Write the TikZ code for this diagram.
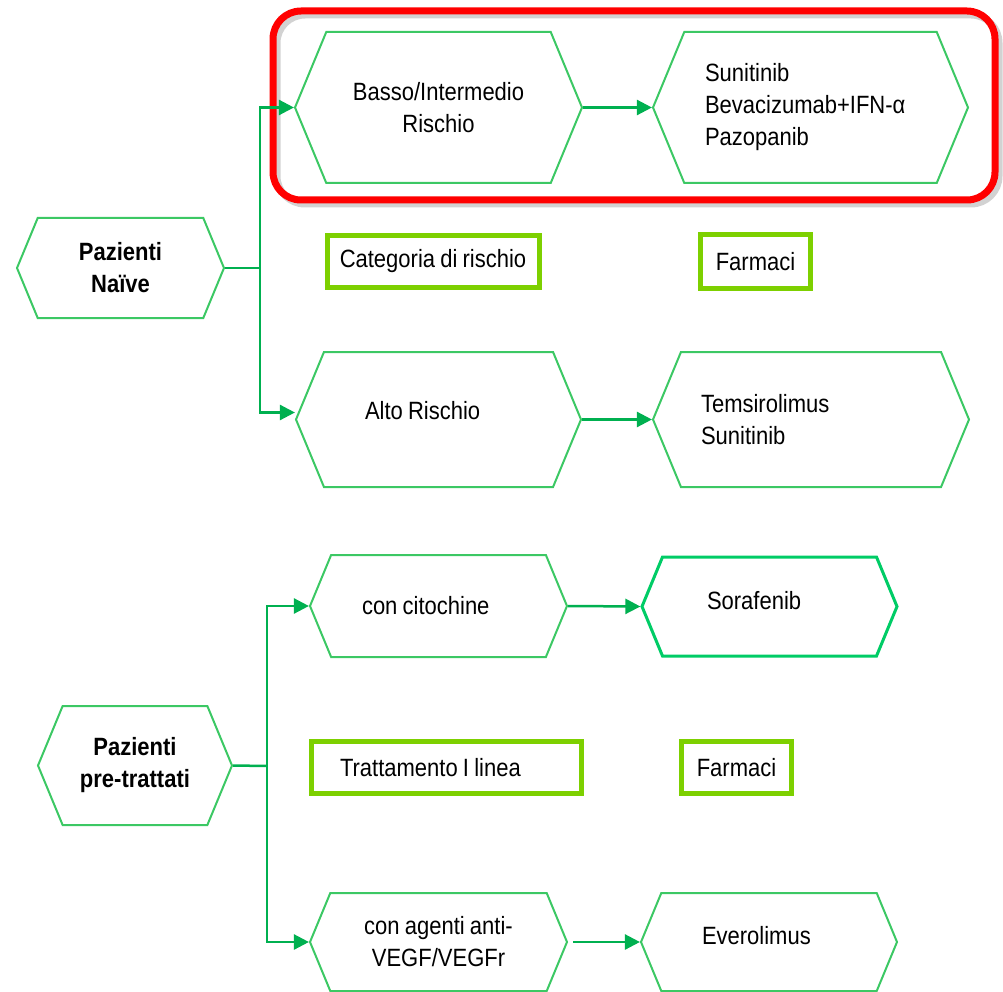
\documentclass[tikz,border=0pt]{standalone}
\usepackage{fontspec}
\setmainfont{Liberation Sans}[FakeStretch=0.88, WordSpace=0.85]
\usetikzlibrary{shapes,arrows.meta}

\definecolor{hexgreen}{RGB}{60,200,100}
\definecolor{arrgreen}{RGB}{0,176,80}
\definecolor{sorgreen}{RGB}{0,204,102}
\definecolor{limegreen}{RGB}{125,208,0}

\tikzset{
  hexa/.style={signal, signal to=west and east, signal pointer angle=135,
    draw=hexgreen, line width=2pt, inner sep=0pt, align=center},
  catbox/.style={draw=limegreen, line width=5pt, inner sep=0pt},
  link/.style={draw=arrgreen, line width=2.5pt},
  arr/.style={link, -{Triangle[length=15pt,width=15pt]}},
  lift/.style={text depth=#1},
}

\begin{document}
\begin{tikzpicture}[x=1pt, y=-1pt, font=\fontsize{25}{32}\selectfont]
    \useasboundingbox (0,0) rectangle (1003,992);

    % red frame round the first row
    \draw[gray!35, line width=7pt, rounded corners=28pt] (277,15) rectangle (999,204);
    \draw[red, line width=7pt, rounded corners=28pt] (273,11) rectangle (995,200);

    % Pazienti naive
    \node[hexa, minimum width=207pt, minimum height=100pt] (naive) at (120.5,268) {\textbf{Pazienti}\\\textbf{Naïve}};

    % risk categories
    \node[hexa, minimum width=287pt, minimum height=151pt] (basso) at (438.5,107.5) {Basso/Intermedio\\Rischio};
    \node[hexa, minimum width=285pt, minimum height=135pt, text width=147pt, align=flush left, lift=19pt] (alto) at (438.5,419.5) {Alto Rischio};

    % drugs
    \node[hexa, minimum width=315pt, minimum height=151pt, text width=211pt, align=flush left] (suni) at (810.5,107.5) {Sunitinib\\Bevacizumab+IFN-α\\Pazopanib};
    \node[hexa, minimum width=316pt, minimum height=135pt, text width=220pt, align=flush left] (temsi) at (811,419.5) {Temsirolimus\\Sunitinib};

    % column titles
    \node[catbox, minimum width=212pt, minimum height=52pt] (catrisk) at (433,261.5) {Categoria di rischio};
    \node[catbox, minimum width=110pt, minimum height=53pt] (farm1) at (755.5,261.5) {Farmaci};

    % wires from Pazienti naive
    \coordinate (jn) at (260,268);
    \draw[link] (naive.east) -- (jn);
    \draw[arr] (jn) |- (basso.west);
    \draw[arr] (jn) |- ([yshift=7pt]alto.west);
    \draw[arr] (basso.east) -- (suni.west);
    \draw[arr] (alto.east) -- (temsi.west);

    % Pazienti pre-trattati
    \node[hexa, minimum width=194pt, minimum height=119pt] (pretr) at (135,765.5) {\textbf{Pazienti}\\\textbf{pre-trattati}};

    % first line treatment
    \node[hexa, minimum width=257pt, minimum height=102pt, text width=153pt, align=flush left] (citoc) at (438.5,606) {con citochine};
    \node[hexa, minimum width=257pt, minimum height=98pt] (agenti) at (438.5,942) {con agenti anti-\\VEGF/VEGFr};

    % drugs
    \node[hexa, draw=sorgreen, line width=3pt, minimum width=255pt, minimum height=99pt, text width=125pt, align=flush left, lift=13pt] (soraf) at (769.5,606.5) {Sorafenib};
    \node[hexa, minimum width=256pt, minimum height=98pt, text width=134pt, align=flush left, lift=14pt] (everol) at (769,942) {Everolimus};

    % column titles
    \node[catbox, minimum width=270pt, minimum height=52pt, text width=213pt, align=flush left] (tratt) at (446.5,767.5) {Trattamento I linea};
    \node[catbox, minimum width=110pt, minimum height=52pt] (farm2) at (736.5,767.5) {Farmaci};

    % wires from Pazienti pre-trattati
    \coordinate (jp) at (267,766);
    \draw[link] (pretr.east) -- (jp);
    \draw[arr] (jp) |- (citoc.west);
    \draw[arr] (jp) |- (agenti.west);
    \draw[arr] (citoc.east) -- (soraf.west);
    \draw[arr] ([xshift=5pt]agenti.east) -- (everol.west);
\end{tikzpicture}
\end{document}
